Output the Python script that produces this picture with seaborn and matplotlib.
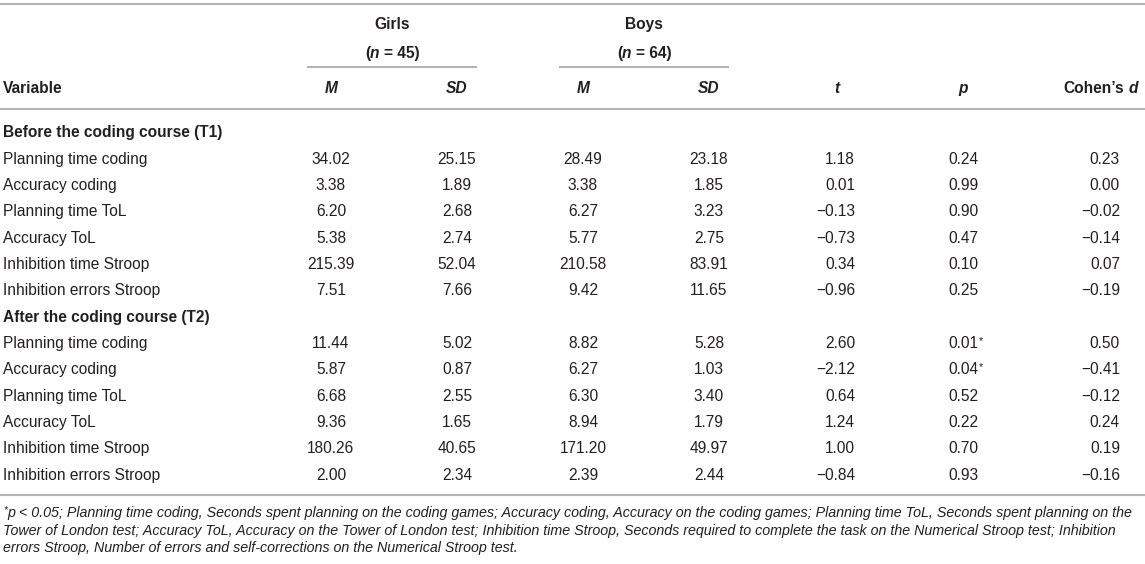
import matplotlib
matplotlib.use("Agg")
import matplotlib.pyplot as plt
import seaborn as sns

# table values
variables = ["Planning time coding", "Accuracy coding", "Planning time ToL",
             "Accuracy ToL", "Inhibition time Stroop", "Inhibition errors Stroop"]
sections = ["Before the coding course (T1)", "After the coding course (T2)"]

t1_girls_m = [34.02, 3.38, 6.20, 5.38, 215.39, 7.51]
t1_girls_sd = [25.15, 1.89, 2.68, 2.74, 52.04, 7.66]
t1_boys_m = [28.49, 3.38, 6.27, 5.77, 210.58, 9.42]
t1_boys_sd = [23.18, 1.85, 3.23, 2.75, 83.91, 11.65]
t1_t = [1.18, 0.01, -0.13, -0.73, 0.34, -0.96]
t1_p = [0.24, 0.99, 0.90, 0.47, 0.10, 0.25]
t1_d = [0.23, 0.00, -0.02, -0.14, 0.07, -0.19]

t2_girls_m = [11.44, 5.87, 6.68, 9.36, 180.26, 2.00]
t2_girls_sd = [5.02, 0.87, 2.55, 1.65, 40.65, 2.34]
t2_boys_m = [8.82, 6.27, 6.30, 8.94, 171.20, 2.39]
t2_boys_sd = [5.28, 1.03, 3.40, 1.79, 49.97, 2.44]
t2_t = [2.60, -2.12, 0.64, 1.24, 1.00, -0.84]
t2_p = [0.01, 0.04, 0.52, 0.22, 0.70, 0.93]
t2_d = [0.50, -0.41, -0.12, 0.24, 0.19, -0.16]

groups = [("Girls", 45), ("Boys", 64)]

footnote = [
    "p < 0.05; Planning time coding, Seconds spent planning on the coding games; Accuracy coding, "
    "Accuracy on the coding games; Planning time ToL, Seconds spent planning on the",
    "Tower of London test; Accuracy ToL, Accuracy on the Tower of London test; Inhibition time Stroop, "
    "Seconds required to complete the task on the Numerical Stroop test; Inhibition",
    "errors Stroop, Number of errors and self-corrections on the Numerical Stroop test.",
]

sns.set_theme(style="white")
plt.rcParams["font.family"] = ["Liberation Sans", "DejaVu Sans"]

TXT = "#231f20"
RULE = "#b4b4b4"
FS = 11.2
FN = 10.25

fig = plt.figure(figsize=(11.45, 5.64), dpi=100)
ax = fig.add_axes([0, 0, 1, 1])
ax.set_xlim(0, 1145)
ax.set_ylim(564, 0)
ax.axis("off")
renderer = fig.canvas.get_renderer()

B = dict(fontsize=FS, fontweight="bold")
BI = dict(fontsize=FS, fontweight="bold", fontstyle="italic")
R = dict(fontsize=FS)
IT = dict(fontsize=FN, fontstyle="italic")


def width(s, kw):
    t = ax.text(0, 0, s, **kw)
    w = t.get_window_extent(renderer).width
    t.remove()
    return w


def gap(kw):
    return width("a a", kw) - width("aa", kw)


def runs(x, y, parts, ha="left"):
    # parts: (text, font kwargs, dy); text None means a space
    ws = [gap(kw) if s is None else width(s, kw) for s, kw, dy in parts]
    total = sum(ws)
    if ha == "center":
        x -= total / 2
    elif ha == "right":
        x -= total
    for (s, kw, dy), w in zip(parts, ws):
        if s is not None:
            ax.text(x, y + dy, s, va="baseline", ha="left", color=TXT, **kw)
        x += w


def fmt(v):
    return f"{v:.2f}".replace("-", "\u2212")


# rules
ax.hlines([4, 108.5, 495], 0, 1145, color=RULE, lw=1.5)
ax.hlines([67, 67], [307, 559], [477, 729], color=RULE, lw=1.5)

# header
col_m = [331, 583]
col_sd = [457, 709]
for (name, n), cm, cs in zip(groups, col_m, col_sd):
    mid = (cm + cs) / 2 - 2
    runs(mid, 28.6, [(name, B, 0)], ha="center")
    runs(mid, 57.6, [("(", B, 0), ("n", BI, 0), (None, B, 0), (f"= {n})", B, 0)], ha="center")
    runs(cm, 92.6, [("M", BI, 0)], ha="center")
    runs(cs, 92.6, [("SD", BI, 0)], ha="center")
runs(3, 92.6, [("Variable", B, 0)])
runs(837, 92.6, [("t", BI, 0)], ha="center")
runs(963, 92.6, [("p", BI, 0)], ha="center")
runs(1138, 92.6, [("Cohen\u2019s", B, 0), (None, B, 0), ("d", BI, 0)], ha="right")

# body
y0, step, base = 131.6, 26.35, 5.6
blocks = [
    (t1_girls_m, t1_girls_sd, t1_boys_m, t1_boys_sd, t1_t, t1_p, t1_d),
    (t2_girls_m, t2_girls_sd, t2_boys_m, t2_boys_sd, t2_t, t2_p, t2_d),
]
row = 0
for sec, blk in zip(sections, blocks):
    runs(3, y0 + row * step + base, [(sec, B, 0)])
    row += 1
    gm, gsd, bm, bsd, tv, pv, dv = blk
    for i, var in enumerate(variables):
        y = y0 + row * step + base
        runs(3, y, [(var, R, 0)])
        runs(col_m[0], y, [(fmt(gm[i]), R, 0)], ha="center")
        runs(col_sd[0], y, [(fmt(gsd[i]), R, 0)], ha="center")
        runs(col_m[1], y, [(fmt(bm[i]), R, 0)], ha="center")
        runs(col_sd[1], y, [(fmt(bsd[i]), R, 0)], ha="center")
        runs(855, y, [(fmt(tv[i]), R, 0)], ha="right")
        runs(963, y, [(fmt(pv[i]), R, 0)], ha="center")
        if pv[i] < 0.05:
            runs(963 + width(fmt(pv[i]), R) / 2 + 0.5, y, [("*", dict(fontsize=FS * 0.7), -4)])
        runs(1120, y, [(fmt(dv[i]), R, 0)], ha="right")
        row += 1

# footnote
fy = [517, 534.5, 552]
runs(3, fy[0], [("*", dict(fontsize=FN * 0.7, fontstyle="italic"), -4), (footnote[0], IT, 0)])
runs(3, fy[1], [(footnote[1], IT, 0)])
runs(3, fy[2], [(footnote[2], IT, 0)])

fig.savefig("out.png", dpi=100)
